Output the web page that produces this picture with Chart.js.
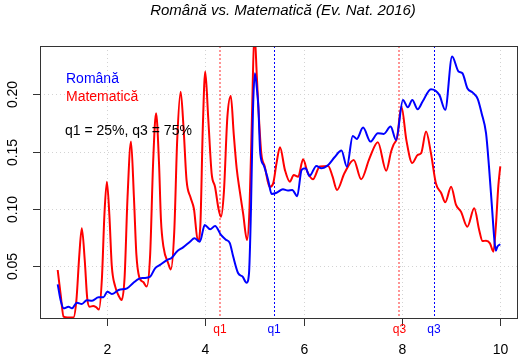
<!DOCTYPE html>
<html>
<head>
<meta charset="utf-8">
<script src="https://cdn.jsdelivr.net/npm/chart.js@4/dist/chart.umd.min.js"></script>
<style>
html,body{margin:0;padding:0;background:#fff;}
canvas{display:block;}
</style>
</head>
<body>
<canvas id="c" width="521" height="357"></canvas>
<script>
// ---- data ----
const romanaX = [1.00,1.06,1.12,1.22,1.29,1.39,1.49,1.59,1.70,1.83,1.93,2.01,2.10,2.24,2.41,2.54,2.66,2.75,2.88,2.98,3.08,3.22,3.32,3.42,3.55,3.69,3.78,3.89,3.99,4.10,4.20,4.32,4.42,4.50,4.57,4.67,4.76,4.84,4.89,4.93,4.97,5.01,5.05,5.08,5.12,5.19,5.28,5.35,5.45,5.58,5.68,5.77,5.87,5.96,6.04,6.12,6.26,6.36,6.50,6.63,6.77,6.88,7.00,7.08,7.21,7.36,7.51,7.63,7.77,7.88,8.02,8.12,8.21,8.32,8.42,8.59,8.76,8.88,9.02,9.15,9.23,9.33,9.44,9.54,9.62,9.71,9.77,9.83,9.88,9.91,9.94,10.00];
const romanaY = [0.034,0.020,0.013,0.0144,0.013,0.018,0.0168,0.020,0.0197,0.0227,0.0227,0.0276,0.0255,0.029,0.0305,0.0354,0.039,0.0395,0.0407,0.048,0.051,0.0552,0.0573,0.0625,0.0663,0.0712,0.0742,0.0712,0.0858,0.082,0.085,0.0771,0.073,0.070,0.058,0.0436,0.0407,0.0354,0.0436,0.100,0.185,0.2184,0.205,0.189,0.148,0.138,0.125,0.113,0.114,0.117,0.116,0.1165,0.111,0.134,0.1354,0.1287,0.1374,0.1354,0.1383,0.145,0.1508,0.1368,0.1636,0.161,0.1709,0.1587,0.166,0.1654,0.1718,0.160,0.1951,0.1887,0.1951,0.187,0.1937,0.2045,0.1995,0.1864,0.233,0.220,0.2184,0.2053,0.2015,0.196,0.1835,0.166,0.1368,0.1019,0.0727,0.0634,0.0669,0.069];

const matX = [1.00,1.06,1.12,1.20,1.32,1.38,1.44,1.49,1.55,1.60,1.65,1.72,1.78,1.84,1.90,1.95,2.00,2.05,2.10,2.17,2.24,2.30,2.36,2.42,2.49,2.55,2.60,2.66,2.74,2.81,2.88,2.94,3.00,3.06,3.10,3.15,3.25,3.30,3.37,3.43,3.50,3.56,3.62,3.70,3.77,3.85,3.90,3.95,4.00,4.06,4.13,4.20,4.27,4.32,4.38,4.45,4.52,4.58,4.64,4.70,4.77,4.85,4.90,4.95,5.00,5.05,5.08,5.14,5.21,5.31,5.38,5.45,5.52,5.62,5.72,5.80,5.89,5.99,6.08,6.19,6.33,6.50,6.59,6.68,6.83,7.02,7.17,7.34,7.51,7.68,7.78,7.83,7.90,7.99,8.09,8.21,8.32,8.39,8.49,8.59,8.69,8.80,8.88,9.00,9.10,9.20,9.33,9.47,9.57,9.64,9.71,9.79,9.86,9.91,9.96,10.00];
const matY = [0.0465,0.025,0.0057,0.0050,0.0050,0.020,0.060,0.083,0.055,0.022,0.0144,0.0150,0.0140,0.0120,0.040,0.095,0.1237,0.095,0.050,0.032,0.024,0.0203,0.040,0.110,0.1587,0.110,0.060,0.040,0.036,0.032,0.060,0.140,0.1835,0.140,0.090,0.067,0.052,0.047,0.080,0.160,0.2023,0.170,0.125,0.110,0.100,0.072,0.085,0.170,0.2199,0.180,0.131,0.119,0.100,0.093,0.115,0.180,0.1986,0.165,0.135,0.116,0.096,0.0727,0.100,0.180,0.255,0.215,0.189,0.1485,0.137,0.119,0.122,0.140,0.1537,0.134,0.1237,0.1295,0.128,0.1432,0.132,0.1258,0.137,0.1374,0.128,0.1164,0.131,0.1427,0.1258,0.1441,0.1581,0.1333,0.150,0.156,0.162,0.1892,0.160,0.140,0.147,0.1485,0.1674,0.1485,0.1223,0.1136,0.1057,0.1193,0.1033,0.0975,0.0843,0.1004,0.0815,0.0718,0.0721,0.0698,0.0625,0.085,0.120,0.137];

const xTicks = [2, 4, 6, 8, 10];
const xTickLabels = ['2', '4', '6', '8', '10'];
const yTicks = [0.05, 0.10, 0.15, 0.20];
const yTickLabels = ['0.05', '0.10', '0.15', '0.20'];
const matQuantiles = [4.30, 7.95];   // q1, q3 Matematică
const romQuantiles = [5.40, 8.65];   // q1, q3 Română
const quantileNames = ['q1', 'q3'];
const titleText = 'Română vs. Matematică (Ev. Nat. 2016)';
const seriesNames = ['Română', 'Matematică'];
const noteText = 'q1 = 25%, q3 = 75%';

const RED = '#ff0000', BLUE = '#0000ff';
const FONT = '"Liberation Sans", Arial, Helvetica, sans-serif';

function pts(xs, ys) { return xs.map((x, i) => ({x: x, y: ys[i]})); }

const rPlugin = {
  id: 'rstyle',
  beforeDatasetsDraw(chart) {
    const ctx = chart.ctx, a = chart.chartArea;
    const xs = chart.scales.x, ys = chart.scales.y;
    ctx.save();
    // grid
    ctx.strokeStyle = '#d3d3d3';
    ctx.lineWidth = 1;
    ctx.setLineDash([1, 3]);
    xTicks.forEach(v => {
      const px = Math.round(xs.getPixelForValue(v)) + 0.5;
      ctx.beginPath(); ctx.moveTo(px, a.top); ctx.lineTo(px, a.bottom); ctx.stroke();
    });
    yTicks.forEach(v => {
      const py = Math.round(ys.getPixelForValue(v)) + 0.5;
      ctx.beginPath(); ctx.moveTo(a.left, py); ctx.lineTo(a.right, py); ctx.stroke();
    });
    // quantile lines
    ctx.setLineDash([2, 2]);
    ctx.lineWidth = 2;
    ctx.strokeStyle = 'rgba(255,60,60,0.55)';
    matQuantiles.forEach(v => {
      const px = Math.round(xs.getPixelForValue(v));
      ctx.beginPath(); ctx.moveTo(px, a.top); ctx.lineTo(px, a.bottom); ctx.stroke();
    });
    ctx.lineWidth = 1;
    ctx.strokeStyle = BLUE;
    romQuantiles.forEach(v => {
      const px = Math.round(xs.getPixelForValue(v)) + 0.5;
      ctx.beginPath(); ctx.moveTo(px, a.top); ctx.lineTo(px, a.bottom); ctx.stroke();
    });
    ctx.restore();
  },
  afterDatasetsDraw(chart) {
    const ctx = chart.ctx, a = chart.chartArea;
    const xs = chart.scales.x, ys = chart.scales.y;
    ctx.save();
    ctx.setLineDash([]);
    // box
    ctx.strokeStyle = '#333';
    ctx.lineWidth = 1;
    ctx.strokeRect(a.left + 0.5, a.top + 0.5, a.right - a.left - 1, a.bottom - a.top);
    // x ticks
    ctx.fillStyle = '#000';
    ctx.font = '14px ' + FONT;
    ctx.textAlign = 'center';
    ctx.textBaseline = 'alphabetic';
    xTicks.forEach((v, i) => {
      const px = Math.round(xs.getPixelForValue(v)) + 0.5;
      ctx.beginPath(); ctx.moveTo(px, a.bottom); ctx.lineTo(px, a.bottom + 8); ctx.stroke();
      ctx.fillText(xTickLabels[i], px, 354);
    });
    // y ticks
    yTicks.forEach((v, i) => {
      const py = Math.round(ys.getPixelForValue(v)) + 0.5;
      ctx.beginPath(); ctx.moveTo(a.left, py); ctx.lineTo(a.left - 7, py); ctx.stroke();
      ctx.save();
      ctx.translate(17, py);
      ctx.rotate(-Math.PI / 2);
      ctx.fillText(yTickLabels[i], 0, 0);
      ctx.restore();
    });
    // quantile labels
    ctx.font = '12px ' + FONT;
    matQuantiles.forEach((v, i) => {
      ctx.fillStyle = RED;
      ctx.fillText(quantileNames[i], xs.getPixelForValue(v), 333);
    });
    romQuantiles.forEach((v, i) => {
      ctx.fillStyle = BLUE;
      ctx.fillText(quantileNames[i], xs.getPixelForValue(v), 333);
    });
    // title
    ctx.fillStyle = '#000';
    ctx.font = 'italic 15px ' + FONT;
    ctx.fillText(titleText, (a.left + a.right) / 2 + 4, 15);
    // legend texts
    ctx.textAlign = 'left';
    ctx.font = '14px ' + FONT;
    ctx.fillStyle = BLUE;
    ctx.fillText(seriesNames[0], 66, 83);
    ctx.fillStyle = RED;
    ctx.fillText(seriesNames[1], 66, 101);
    ctx.fillStyle = '#000';
    ctx.fillText(noteText, 65, 135);
    ctx.restore();
  }
};

new Chart(document.getElementById('c'), {
  type: 'line',
  data: {
    datasets: [
      { label: seriesNames[0], data: pts(romanaX, romanaY), borderColor: BLUE, borderWidth: 2,
        pointRadius: 0, fill: false, cubicInterpolationMode: 'monotone' },
      { label: seriesNames[1], data: pts(matX, matY), borderColor: RED, borderWidth: 2,
        pointRadius: 0, fill: false, cubicInterpolationMode: 'monotone' }
    ]
  },
  options: {
    responsive: false,
    animation: false,
    devicePixelRatio: 1,
    layout: { padding: { left: 40, right: 3, top: 46, bottom: 39 } },
    plugins: { legend: { display: false }, tooltip: { enabled: false }, title: { display: false } },
    scales: {
      x: { type: 'linear', display: false, min: 0.64, max: 10.36 },
      y: { type: 'linear', display: false, min: 0.00457, max: 0.2422 }
    }
  },
  plugins: [rPlugin]
});
</script>
</body>
</html>
